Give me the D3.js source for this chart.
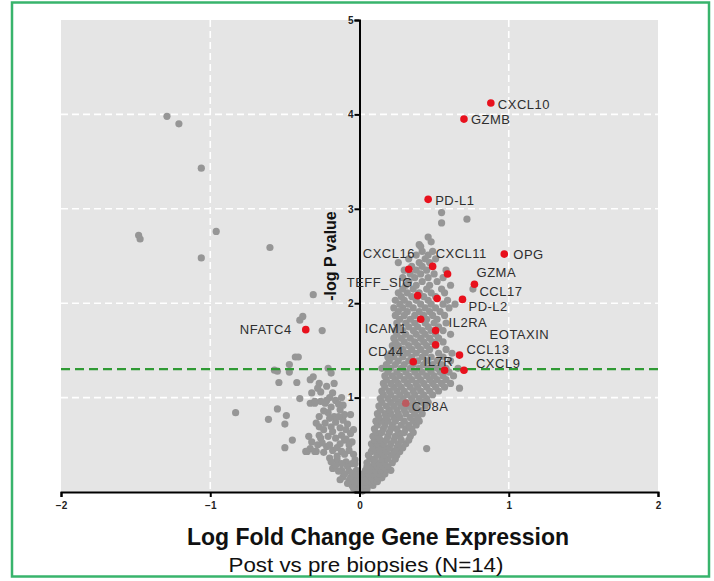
<!DOCTYPE html>
<html>
<head>
<meta charset="utf-8">
<script src="https://cdn.jsdelivr.net/npm/d3@7"></script>
<style>
body { margin: 0; background: #fff; }
svg { display: block; font-family: "Liberation Sans", Arial, sans-serif; }
</style>
</head>
<body>
<svg id="chart"></svg>
<script>
// highlighted genes (red dots)
const hitNames   = ["CXCL10","GZMB","PD-L1","OPG","CXCL16","CXCL11","GZMA","CCL17","TEFF_SIG","","PD-L2","ICAM1","IL2RA","EOTAXIN","CCL13","CD44","IL7R","CXCL9","CD8A","NFATC4"];
const hitLogFC   = [0.88, 0.70, 0.46, 0.97, 0.33, 0.49, 0.59, 0.77, 0.39, 0.52, 0.69, 0.41, 0.51, 0.51, 0.67, 0.36, 0.57, 0.70, 0.31, -0.36];
const hitNegLogP = [4.12, 3.95, 3.10, 2.52, 2.36, 2.39, 2.31, 2.20, 2.08, 2.05, 2.04, 1.83, 1.71, 1.56, 1.45, 1.38, 1.29, 1.29, 0.94, 1.72];
const fadedHits  = ["CD8A"];

// scattered grey genes: [logFC, -log P]
const outlierGenes = [
  [-1.29,3.98],[-1.21,3.90],[-1.06,3.43],[-1.48,2.72],[-1.47,2.68],[-0.96,2.76],[-1.06,2.48],[-0.60,2.59],
  [-0.31,2.09],[-0.40,1.82],[-0.38,1.86],[-0.25,1.71],[-0.43,1.43],[-0.41,1.43],[-0.47,1.35],[-0.57,1.29],
  [-0.55,1.28],[-0.47,1.27],[-0.54,1.16],[-0.42,1.16],[-0.33,1.19],[-0.31,1.22],[-0.21,1.31],[-0.19,1.26],
  [-0.40,0.99],[-0.32,1.05],[-0.33,0.94],[-0.30,0.96],[-0.26,0.96],[-0.83,0.84],[-0.55,0.88],[-0.49,0.81],
  [-0.61,0.77],[-0.50,0.72],[-0.29,0.73],[-0.27,0.69],[-0.45,0.55],[-0.34,0.59],[-0.32,0.53],[-0.33,0.46],
  [-0.50,0.47],[-0.35,0.43],[-0.29,0.43],
  [0.55,2.96],[0.55,2.85],[0.72,2.89],[0.40,2.62],[0.45,0.46],[0.67,1.10]
];

// left arm of the volcano: [logFC, -log P]
const leftArmGenes = [
  [-0.27,1.15],[-0.26,1.06],[-0.18,1.05],[-0.16,0.97],[-0.30,0.94],[-0.23,0.94],[-0.19,0.90],[-0.13,0.87],
  [-0.21,0.84],[-0.17,0.80],[-0.11,0.76],[-0.23,0.73],[-0.19,0.69],[-0.13,0.68],[-0.09,0.66],[-0.27,0.60],
  [-0.21,0.59],[-0.16,0.57],[-0.10,0.55],[-0.05,0.53],[-0.36,0.43],[-0.30,0.43],[-0.22,0.48],[-0.18,0.44],
  [-0.12,0.43],[-0.07,0.44],[-0.20,0.36],[-0.15,0.34],[-0.09,0.32],[-0.03,0.34],[-0.18,0.25],[-0.12,0.23],
  [-0.07,0.22],[-0.02,0.23],[-0.11,0.16],[-0.06,0.15],[-0.02,0.13],[-0.05,0.07],[-0.01,0.06],[0.01,0.04],
  [-0.05,0.20],[-0.08,0.27],[-0.12,0.30],[-0.16,0.28],[-0.03,0.10],[-0.07,0.12],[-0.10,0.19],[-0.14,0.22],
  [-0.19,0.32],[-0.04,0.40],[-0.10,0.40],[-0.15,0.47],[-0.20,0.50],[-0.25,0.52],[-0.07,0.50],[-0.12,0.60],
  [-0.18,0.64],[-0.24,0.66],[-0.06,0.62],[-0.08,0.72],[-0.16,0.74],[-0.20,0.78],[-0.10,0.82],[-0.14,0.93],
  [-0.20,1.00],[-0.24,0.86],[-0.27,0.80],[-0.12,1.00],[-0.22,1.12],[-0.17,1.15],[-0.28,1.10],[-0.03,0.30],
  [-0.02,0.18],[-0.05,0.30],[-0.09,0.56],[-0.13,0.51],[0.00,0.02],[0.02,0.01],[-0.02,0.02],[0.01,0.08],
  [-0.04,0.04],[-0.08,0.09],[-0.13,0.13],[-0.15,0.38],[-0.24,0.42],[-0.26,0.57],[-0.14,0.80],[-0.22,0.97],
  [-0.11,0.92],[-0.06,0.82],[-0.04,0.66],[-0.28,0.50]
];

// right arm of the volcano, one row per band: [-log P, logFC, logFC, ...]
const rightArmRows = [
  [0.03, 0.00,0.02,0.05],
  [0.07, 0.01,0.03,0.06,0.09],
  [0.11, 0.02,0.04,0.07,0.10,0.12],
  [0.15, 0.03,0.05,0.08,0.12,0.15],
  [0.19, 0.02,0.06,0.09,0.13,0.17],
  [0.23, 0.04,0.07,0.11,0.14,0.18,0.21],
  [0.27, 0.05,0.08,0.12,0.16,0.19],
  [0.31, 0.05,0.10,0.13,0.17,0.22],
  [0.35, 0.07,0.10,0.15,0.19,0.24],
  [0.39, 0.06,0.12,0.16,0.21,0.25],
  [0.43, 0.08,0.11,0.14,0.18,0.23,0.27],
  [0.47, 0.09,0.13,0.17,0.20,0.25,0.29],
  [0.51, 0.08,0.12,0.16,0.21,0.26,0.31],
  [0.55, 0.10,0.14,0.18,0.23,0.28,0.33],
  [0.59, 0.09,0.13,0.19,0.24,0.27,0.34],
  [0.63, 0.11,0.15,0.20,0.26,0.30,0.36],
  [0.67, 0.10,0.16,0.21,0.25,0.31,0.35],
  [0.71, 0.12,0.17,0.22,0.28,0.33,0.38],
  [0.75, 0.11,0.15,0.19,0.24,0.30,0.36,0.40],
  [0.79, 0.13,0.18,0.23,0.27,0.34,0.39],
  [0.83, 0.12,0.17,0.21,0.26,0.31,0.37,0.42],
  [0.87, 0.14,0.20,0.25,0.30,0.35,0.40],
  [0.91, 0.13,0.18,0.23,0.28,0.33,0.38,0.44],
  [0.95, 0.15,0.21,0.26,0.31,0.36,0.42,0.46],
  [0.99, 0.14,0.19,0.24,0.29,0.35,0.40,0.45],
  [1.03, 0.16,0.21,0.27,0.32,0.37,0.43,0.49],
  [1.07, 0.15,0.20,0.25,0.30,0.36,0.41,0.47,0.53],
  [1.11, 0.17,0.23,0.28,0.34,0.39,0.45,0.51,0.57],
  [1.15, 0.16,0.21,0.26,0.32,0.38,0.43,0.49,0.55,0.61],
  [1.19, 0.18,0.24,0.30,0.35,0.41,0.47,0.52,0.58],
  [1.23, 0.17,0.22,0.27,0.33,0.39,0.45,0.50,0.56,0.63],
  [1.27, 0.19,0.25,0.31,0.37,0.42,0.48,0.54,0.60],
  [1.31, 0.15,0.21,0.28,0.34,0.40,0.46,0.52,0.58,0.66],
  [1.35, 0.18,0.24,0.30,0.36,0.43,0.49,0.55],
  [1.39, 0.20,0.26,0.33,0.39,0.45,0.52,0.61],
  [1.43, 0.19,0.23,0.29,0.35,0.42,0.48,0.56],
  [1.47, 0.21,0.27,0.32,0.38,0.44,0.53,0.62],
  [1.51, 0.23,0.29,0.35,0.41,0.47,0.58],
  [1.55, 0.22,0.26,0.33,0.39,0.45,0.51],
  [1.59, 0.24,0.30,0.37,0.43,0.49,0.56],
  [1.63, 0.23,0.28,0.34,0.41,0.47,0.53],
  [1.67, 0.25,0.31,0.38,0.44,0.51,0.61],
  [1.71, 0.24,0.29,0.36,0.42,0.48,0.56],
  [1.75, 0.26,0.33,0.39,0.46,0.53],
  [1.79, 0.25,0.31,0.37,0.44,0.50,0.58],
  [1.83, 0.27,0.34,0.45,0.52],
  [1.87, 0.24,0.30,0.37,0.43,0.49,0.57],
  [1.91, 0.26,0.32,0.40,0.47,0.54],
  [1.95, 0.23,0.29,0.36,0.44,0.51,0.60],
  [1.99, 0.27,0.33,0.41,0.48,0.56,0.64],
  [2.03, 0.24,0.30,0.38,0.46,0.59],
  [2.07, 0.28,0.35,0.43,0.51],
  [2.11, 0.26,0.32,0.40,0.48,0.57],
  [2.15, 0.29,0.36,0.45,0.55,0.76],
  [2.19, 0.31,0.38,0.47,0.61],
  [2.23, 0.33,0.42,0.52],
  [2.27, 0.29,0.37,0.46,0.56],
  [2.31, 0.34,0.41,0.50],
  [2.35, 0.30,0.38,0.45,0.58],
  [2.39, 0.35,0.42],
  [2.43, 0.26,0.40,0.47],
  [2.47, 0.33,0.44,0.51],
  [2.51, 0.38,0.46],
  [2.55, 0.42,0.49],
  [2.60, 0.41],
  [2.65, 0.48],
  [2.70, 0.46]
];

const xTicks = [-2, -1, 0, 1, 2];
const yTicks = [1, 2, 3, 4, 5];
const yGrid = [1, 2, 3, 4];
const xGrid = [-1, 1];
const pCutoff = 0.05;

// label placement relative to the dot (pixels)
const labelOffsets = {
  "CXCL10":[7,1], "GZMB":[7,0], "PD-L1":[7,1], "OPG":[9,0], "CXCL16":[-46,-16], "CXCL11":[3,-13],
  "GZMA":[29,-1], "CCL17":[5,7], "TEFF_SIG":[-71,-13], "PD-L2":[6,7], "ICAM1":[-56,9], "IL2RA":[13,-8],
  "EOTAXIN":[54,-10], "CCL13":[7,-6], "CD44":[-45,-10], "IL7R":[-21,-9], "CXCL9":[12,-7], "CD8A":[6,3],
  "NFATC4":[-66,0]
};

const W = 714, H = 581;
const svg = d3.select('#chart').attr('width', W).attr('height', H);

svg.append('rect').attr('width', W).attr('height', H).attr('fill', '#fff');
// green frame
svg.append('rect')
   .attr('x', 12).attr('y', 2.5).attr('width', 697).attr('height', 574)
   .attr('fill', 'none').attr('stroke', '#38b46c').attr('stroke-width', 2.5);

const xscale = d3.scaleLinear().domain([-2, 2]).range([61, 658]);
const yscale = d3.scaleLinear().domain([0, 5]).range([492, 20]);

// grey panel
svg.append('rect')
   .attr('x', xscale(-2)).attr('y', yscale(5))
   .attr('width', xscale(2) - xscale(-2)).attr('height', yscale(0) - yscale(5))
   .attr('fill', '#e5e5e5');

// white dashed grid
svg.append('g').selectAll('line').data(yGrid).join('line')
   .attr('x1', xscale(-2)).attr('x2', xscale(2))
   .attr('y1', d => yscale(d)).attr('y2', d => yscale(d))
   .attr('stroke', '#fff').attr('stroke-width', 1.6).attr('stroke-dasharray', '7,4');
svg.append('g').selectAll('line').data(xGrid).join('line')
   .attr('x1', d => xscale(d)).attr('x2', d => xscale(d))
   .attr('y1', yscale(5)).attr('y2', yscale(0))
   .attr('stroke', '#fff').attr('stroke-width', 1.6).attr('stroke-dasharray', '7,4');

// grey genes
const greyGenes = outlierGenes.concat(leftArmGenes);
rightArmRows.forEach(row => {
  row.slice(1).forEach(fc => greyGenes.push([fc, row[0]]));
});
svg.append('g').selectAll('circle').data(greyGenes).join('circle')
   .attr('cx', d => xscale(d[0])).attr('cy', d => yscale(d[1]))
   .attr('r', 3.6).attr('fill', '#969696');

// significance cutoff
svg.append('line')
   .attr('x1', xscale(-2)).attr('x2', xscale(2))
   .attr('y1', yscale(-Math.log10(pCutoff))).attr('y2', yscale(-Math.log10(pCutoff)))
   .attr('stroke', '#2f9a34').attr('stroke-width', 2.2).attr('stroke-dasharray', '9,5');

// axes
const xAxis = svg.append('g')
   .attr('transform', `translate(0,${yscale(0)})`)
   .call(d3.axisBottom(xscale).tickValues(xTicks).tickSize(5).tickFormat(d3.format('d')));
const yAxis = svg.append('g')
   .attr('transform', `translate(${xscale(0)},0)`)
   .call(d3.axisLeft(yscale).tickValues(yTicks).tickSize(5).tickFormat(d3.format('d')));
[xAxis, yAxis].forEach(ax => {
  ax.select('.domain').attr('stroke', '#000').attr('stroke-width', 2);
  ax.selectAll('.tick line').attr('stroke', '#000').attr('stroke-width', 2);
  ax.selectAll('.tick text').attr('font-size', 10).attr('font-weight', 'bold').attr('fill', '#222')
    .attr('font-family', '"Liberation Sans", Arial, sans-serif');
});
xAxis.selectAll('.tick text').attr('dy', '0.9em');
yAxis.selectAll('.tick text').attr('x', -6);

// red genes
const hits = hitNames.map((n, i) => ({name: n, fc: hitLogFC[i], p: hitNegLogP[i]}));
svg.append('g').selectAll('circle').data(hits).join('circle')
   .attr('cx', d => xscale(d.fc)).attr('cy', d => yscale(d.p))
   .attr('r', 3.8).attr('fill', '#e8111d')
   .attr('fill-opacity', d => fadedHits.includes(d.name) ? 0.45 : 1);

svg.append('g').selectAll('text').data(hits.filter(d => d.name)).join('text')
   .attr('x', d => xscale(d.fc) + labelOffsets[d.name][0])
   .attr('y', d => yscale(d.p) + labelOffsets[d.name][1])
   .attr('dy', '0.35em')
   .attr('font-size', 13).attr('letter-spacing', 0.5).attr('fill', '#2e2e2e')
   .text(d => d.name);

// axis titles
svg.append('text')
   .attr('transform', 'translate(330,256) rotate(-90)')
   .attr('text-anchor', 'middle').attr('dy', '0.35em')
   .attr('font-size', 16).attr('font-weight', 'bold').attr('fill', '#111')
   .text('-log P value');

svg.append('text')
   .attr('x', 378).attr('y', 545)
   .attr('text-anchor', 'middle')
   .attr('font-size', 23).attr('font-weight', 'bold').attr('fill', '#111')
   .text('Log Fold Change Gene Expression');

svg.append('text')
   .attr('x', 366).attr('y', 572)
   .attr('text-anchor', 'middle')
   .attr('font-size', 20).attr('fill', '#111')
   .attr('textLength', 275).attr('lengthAdjust', 'spacingAndGlyphs')
   .text('Post vs pre biopsies (N=14)');
</script>
</body>
</html>
